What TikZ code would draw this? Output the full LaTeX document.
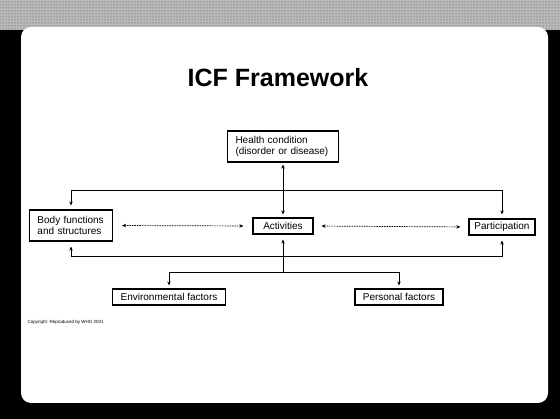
\documentclass[tikz,border=0pt]{standalone}
\usepackage{fontspec}
\setmainfont{Liberation Sans}
\usetikzlibrary{arrows.meta,patterns}
\begin{document}
\begin{tikzpicture}[x=1pt,y=-1pt,
  box/.style={draw=black,line width=1.1pt,fill=white,inner sep=0pt,font=\fontsize{10}{11}\selectfont},
  lbox/.style={box,align=left,text width=#1},
  conn/.style={line width=1pt,-{Stealth[length=4pt,width=3.5pt]}},
  both/.style={line width=1pt,{Stealth[length=4pt,width=3.5pt]}-{Stealth[length=4pt,width=3.5pt]}},
  dots/.style={line width=0.7pt,dash pattern=on 1.5pt off 1pt,{Stealth[length=4pt,width=3.5pt]}-{Stealth[length=4pt,width=3.5pt]}}]
\path[use as bounding box] (0,0) rectangle (560,419);
\fill[black] (0,0) rectangle (560,419);
\fill[gray!55] (0,0) rectangle (560,30);
\fill[pattern=dots,pattern color=black!70] (0,0) rectangle (560,30);
\fill[white,rounded corners=10pt] (21,27) rectangle (548,403);
\node[font=\fontsize{25}{28}\bfseries\selectfont] (title) at (278,78) {ICF Framework};
\node[lbox=95pt,minimum width=111pt,minimum height=31pt,inner xsep=8pt] (hc) at (283,146.5) {Health condition\\(disorder or disease)};
\node[lbox=67pt,minimum width=83pt,minimum height=31pt,inner xsep=8pt] (body) at (71,225.5) {Body functions\\and structures};
\node[box,minimum width=60pt,minimum height=16pt] (act) at (283,226) {Activities};
\node[box,minimum width=66pt,minimum height=16pt] (part) at (502,227) {Participation};
\node[box,minimum width=113pt,minimum height=16pt] (env) at (169,297) {Environmental factors};
\node[box,minimum width=88pt,minimum height=16pt] (pers) at (399,297) {Personal factors};
\node[anchor=west,font=\fontsize{4.5}{5}\selectfont] (copy) at (24,322) {Copyright: Reproduced by WHO 2001};
\coordinate (tj) at (283,191);
\coordinate (bj) at (283,257);
\coordinate (ej) at (283,273);
\draw[both,shorten <=2pt,shorten >=3pt] (hc.south) -- (act.north);
\draw[conn,shorten >=4pt] (tj) -| (body.north);
\draw[conn,shorten >=4pt] (tj) -| (part.north);
\draw[dots,shorten <=9pt,shorten >=9pt] (body.east) -- (act.west);
\draw[dots,shorten <=8pt,shorten >=8pt] (act.east) -- (part.west);
\draw[conn,shorten >=5pt] (bj) -| (body.south);
\draw[conn,shorten >=5pt] (bj) -| (part.south);
\draw[conn,shorten >=5pt] (bj) -- (act.south);
\draw[line width=1pt] (bj) -- (ej);
\draw[conn,shorten >=3pt] (ej) -| (env.north);
\draw[conn,shorten >=3pt] (ej) -| (pers.north);
\end{tikzpicture}
\end{document}
